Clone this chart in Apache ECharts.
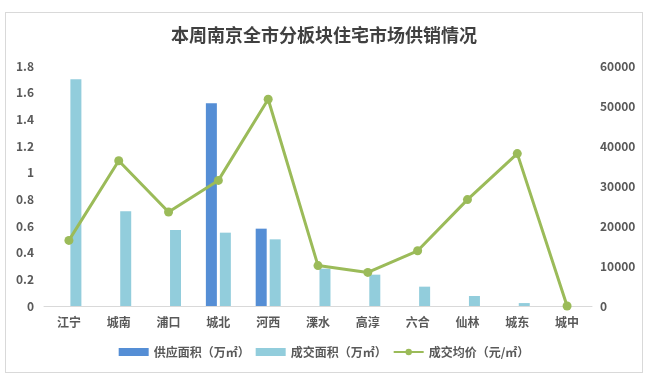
<!DOCTYPE html>
<html><head><meta charset="utf-8">
<script src="https://cdn.jsdelivr.net/npm/echarts@6/dist/echarts.min.js"></script>
<style>html,body{margin:0;padding:0;background:#fff}#c{width:648px;height:383px}
#frame{position:absolute;left:5px;top:12px;width:636px;height:359px;border:1px solid #d9d9d9;pointer-events:none}</style>
</head><body><div id="c"></div><div id="frame"></div>
<script>
const categories = ['江宁','城南','浦口','城北','河西','溧水','高淳','六合','仙林','城东','城中'];
const supplyArea = [0,0,0,1.52,0.58,0,0,0,0,0,0];
const dealArea = [1.70,0.71,0.57,0.55,0.50,0.28,0.235,0.145,0.075,0.022,0];
const avgPrice = [16400,36300,23500,31400,51700,10100,8400,13800,26600,38100,0];
const leftTicks = [0,0.2,0.4,0.6,0.8,1,1.2,1.4,1.6,1.8];
const rightTicks = [0,10000,20000,30000,40000,50000,60000];
const seriesNames = ['供应面积（万㎡）','成交面积（万㎡）','成交均价（元/㎡）'];

const chart = echarts.init(document.getElementById('c'));
const font = '"Noto Sans CJK SC", sans-serif';
chart.setOption({
  animation:false,
  textStyle:{fontFamily:font},
  title:{text:'本周南京全市分板块住宅市场供销情况',left:'center',top:21,
    textStyle:{fontSize:18,fontWeight:'bold',color:'#404040',fontFamily:font}},
  grid:{left:44,right:56,top:66,bottom:77},
  legend:{bottom:20,left:'center',itemGap:6,itemWidth:30,itemHeight:8,
    textStyle:{color:'#595959',fontSize:12,fontWeight:'bold',fontFamily:font},
    data:[{name:seriesNames[0],icon:'rect'},{name:seriesNames[1],icon:'rect'},{name:seriesNames[2]}]},
  xAxis:{type:'category',data:categories,
    axisLine:{lineStyle:{color:'#d9d9d9'}},axisTick:{show:false},
    axisLabel:{color:'#595959',fontSize:12,fontWeight:'bold',margin:10}},
  yAxis:[{type:'value',min:leftTicks[0],max:leftTicks[leftTicks.length-1],interval:0.2,
    splitLine:{show:false},axisLine:{show:false},axisTick:{show:false},
    axisLabel:{color:'#595959',fontSize:12,fontWeight:'bold',margin:10,
      formatter:v=>String(Math.round(v*10)/10)}},
   {type:'value',min:rightTicks[0],max:rightTicks[rightTicks.length-1],interval:10000,
    splitLine:{show:false},axisLine:{show:false},axisTick:{show:false},
    axisLabel:{color:'#595959',fontSize:12,fontWeight:'bold',margin:8,
      formatter:v=>String(v)}}],
  series:[
    {name:seriesNames[0],type:'bar',data:supplyArea,barWidth:11,barGap:'27%',
      itemStyle:{color:'#558ed5'}},
    {name:seriesNames[1],type:'bar',data:dealArea,barWidth:11,barGap:'27%',
      itemStyle:{color:'#92cddc'}},
    {name:seriesNames[2],type:'line',yAxisIndex:1,data:avgPrice,
      symbol:'circle',symbolSize:9,
      lineStyle:{color:'#9bbb59',width:3},itemStyle:{color:'#9bbb59'}}
  ]
});
</script></body></html>
